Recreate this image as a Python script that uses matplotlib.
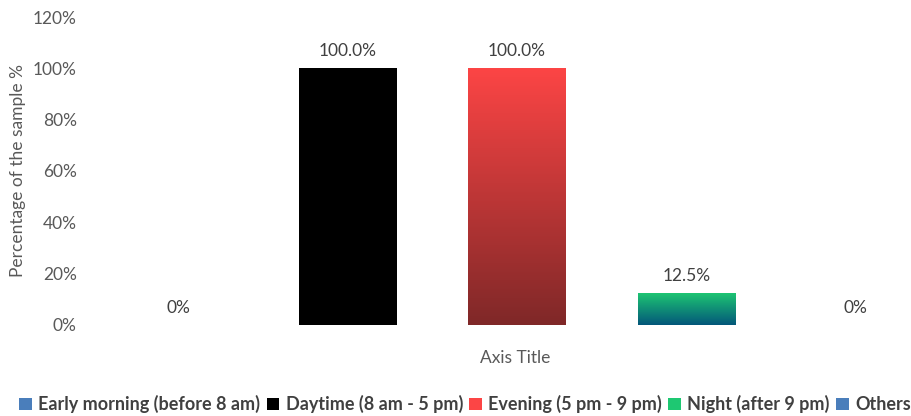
import matplotlib.pyplot as plt
import numpy as np
from matplotlib.colors import LinearSegmentedColormap
from matplotlib.patches import Patch

plt.rcParams['font.family'] = ['Lato', 'DejaVu Sans']

# Data
categories = ['Early morning (before 8 am)', 'Daytime (8 am - 5 pm)',
              'Evening (5 pm - 9 pm)', 'Night (after 9 pm)', 'Others']
values = [0, 100, 100, 12.5, 0]
labels = ['0%', '100.0%', '100.0%', '12.5%', '0%']
# (top colour, bottom colour) for each bar
colors = [('#4a7ebb', '#4a7ebb'), ('#000000', '#000000'),
          ('#fc4545', '#7f2828'), ('#1ec872', '#03577a'),
          ('#4a7ebb', '#4a7ebb')]

fig = plt.figure(figsize=(9.12, 4.16), dpi=100)
ax = fig.add_axes([0.1025, 0.219, 0.9287, 0.740])

x = np.arange(len(categories))
bars = ax.bar(x, values, width=0.575, color='none')

# Gradient fill each bar
for bar, (top, bot) in zip(bars, colors):
    if bar.get_height() == 0:
        continue
    cmap = LinearSegmentedColormap.from_list('g', [bot, top])
    x0, w, h = bar.get_x(), bar.get_width(), bar.get_height()
    grad = np.linspace(0, 1, 256).reshape(-1, 1)
    im = ax.imshow(grad, cmap=cmap, origin='lower', aspect='auto',
                   extent=[x0, x0 + w, 0, h], zorder=2)
    im.set_clip_path(bar)

for xi, v, lab in zip(x, values, labels):
    ax.text(xi, v + 3.5, lab, ha='center', va='bottom', fontsize=12.5, color='#404040')

ax.set_xlim(-0.5, len(categories) - 0.5)
ax.set_ylim(0, 120)
ax.set_yticks(np.arange(0, 121, 20))
ax.set_yticklabels([f'{t}%' for t in range(0, 121, 20)])
ax.set_xticks([])
ax.tick_params(axis='y', length=0, labelsize=12.5, labelcolor='#595959', pad=12)
for s in ax.spines.values():
    s.set_visible(False)

ax.set_xlabel('Axis Title', fontsize=12.5, color='#595959')
ax.xaxis.set_label_coords((515 - 93.5) / 847, -0.08)
fig.text(0.020, 0.589, 'Percentage of the sample %', rotation=90,
         ha='center', va='center', fontsize=12.5, color='#595959')

handles = [Patch(facecolor=c[0], edgecolor='none') for c in colors]
fig.legend(handles, categories, loc='center', bbox_to_anchor=(0.51, 0.028),
           ncol=5, frameon=False, handlelength=0.7,
           handleheight=0.7, handletextpad=0.35, columnspacing=0.35,
           labelcolor='#404040', prop={'weight': 'bold', 'size': 13})

fig.savefig('out.png', dpi=100)
